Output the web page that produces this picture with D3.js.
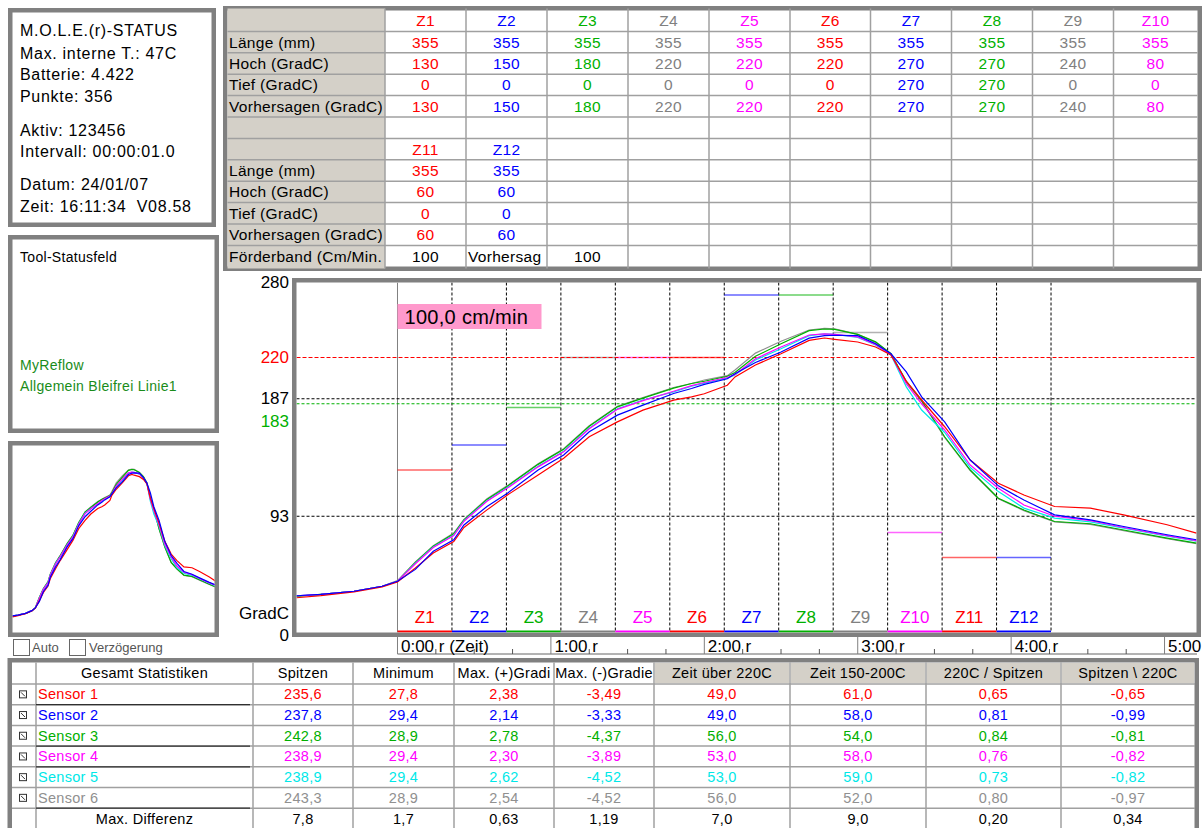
<!DOCTYPE html>
<html><head><meta charset="utf-8">
<script src="https://cdn.jsdelivr.net/npm/d3@7"></script>
<style>
body{margin:0;background:#fff}
svg{display:block}
text{font-family:"Liberation Sans",Arial,sans-serif;white-space:pre}
</style>
</head><body>
<svg id="c" width="1203" height="828"></svg>
<script>
// ---------------- DATA ----------------
const zones = ["Z1","Z2","Z3","Z4","Z5","Z6","Z7","Z8","Z9","Z10","Z11","Z12"];
const zoneColors = ["#ff0000","#0000ff","#00b000","#808080","#ff00ff","#ff0000","#0000ff","#00b000","#808080","#ff00ff","#ff0000","#0000ff"];
const zoneLength = [355,355,355,355,355,355,355,355,355,355,355,355];
const zoneHoch = [130,150,180,220,220,220,270,270,240,80,60,60];
const zoneTief = [0,0,0,0,0,0,270,270,0,0,0,0];
const zoneVorhersagen = [130,150,180,220,220,220,270,270,240,80,60,60];
const conveyorSpeed = 100; // cm/min

const statusLines = ["M.O.L.E.(r)-STATUS","Max. interne T.: 47C","Batterie: 4.422","Punkte: 356","Aktiv: 123456","Intervall: 00:00:01.0","Datum: 24/01/07","Zeit: 16:11:34  V08.58"];
const toolLines = ["MyReflow","Allgemein Bleifrei Linie1"];

const topRowLabels = ["","Länge (mm)","Hoch (GradC)","Tief (GradC)","Vorhersagen (GradC)","","","Länge (mm)","Hoch (GradC)","Tief (GradC)","Vorhersagen (GradC)","Förderband (Cm/Min."];

const timeSec = [-39.5,-30,-17,-6,0,7,14,22,26,35,43,55,65,75,86,96,108,115,120,129,132,140,150,161,167,171,180,187,193,199,205,214,224,235,245,257,271,284,301,312.5];
const sensor1 = [27.8,29.5,32.5,36.5,40.5,51.6,63.6,72.8,84,98.1,110,126,139.4,156.6,168.5,177.9,185.9,188.5,191,197.8,204.5,214,223,233.7,235.6,234.5,232.4,228.4,222,201,186,164.6,138,119.4,110,100.8,99.5,94.1,86.2,79.5];
const sensor2 = [29.4,30.5,33,37,41,50.5,65,74.2,86,100.8,111.4,130,142,160.6,173.9,181.9,191.2,195.2,198.5,203,207,216,224.4,235.5,237.5,237.8,237.5,231,223,208.5,188.5,168.5,138,117.3,106,94.1,90.1,84.8,78.2,74.2];
const sensor3 = [29,30.5,33,37,41,56,69,79,90,106.5,117,134.5,146.5,165,180.5,187.5,195.5,199.2,201,205,208,221,231,241.5,242.8,242.5,238.5,232.5,223,201,185.5,156.6,130,107.4,98,88.8,87,82,75.5,71.5];
const sensor4 = [29.4,30.5,33,37,41,55,68,77.5,89,105,115.5,132.5,144.5,163,178.5,185.5,193,197.5,200,204,206.5,219,228.4,238,238.9,238.5,236.5,230.5,222.5,199,183,162,134,115.4,102,93,89.5,84,77.5,73.5];
const sensor5 = [29.4,30.5,33,37,41,55.5,68.5,78,89.5,105.5,116,133,145,163.5,179,186,192.5,197,199.5,203.5,206,218,227,237.5,238.9,238.5,236,230,222,196.5,178,160,132,112.7,99.5,91.5,88.5,83.5,77,73];
const sensor6 = [28.9,30.5,33,37,41.5,56.5,69.5,79.5,90.5,107,117.5,135,147,165.5,181,188,196,199.2,202,205.5,210,223.5,233,242,243.3,243,238.5,232,223,200,185,156,129.5,107,97.5,88.5,86.5,81.5,75,71];
const sensorNames = ["Sensor 1","Sensor 2","Sensor 3","Sensor 4","Sensor 5","Sensor 6"];
const sensorColors = ["#ff0000","#0000ff","#00b000","#ff00ff","#00e8e8","#909090"];

const yTickValues = [280,220,187,183,93,0];
const yTickColors = ["#000","#ff0000","#000","#00b000","#000","#000"];
const refLines = [220,187,183,93];
const refColors = ["#ff0000","#000","#00b000","#000"];
const timeTickLabels = ["0:00 r (Zeit)","1:00 r","2:00 r","3:00 r","4:00 r","5:00"];
const speedLabel = "100,0 cm/min";

const statsHeaders = ["","Gesamt Statistiken","Spitzen","Minimum","Max. (+)Gradi","Max. (-)Gradie","Zeit über 220C","Zeit 150-200C","220C / Spitzen","Spitzen \\ 220C"];
const statSpitzen = ["235,6","237,8","242,8","238,9","238,9","243,3","7,8"];
const statMinimum = ["27,8","29,4","28,9","29,4","29,4","28,9","1,7"];
const statMaxPos = ["2,38","2,14","2,78","2,30","2,62","2,54","0,63"];
const statMaxNeg = ["-3,49","-3,33","-4,37","-3,89","-4,52","-4,52","1,19"];
const statZeit220 = ["49,0","49,0","56,0","53,0","53,0","56,0","7,0"];
const statZeit150 = ["61,0","58,0","54,0","58,0","59,0","52,0","9,0"];
const stat220Sp = ["0,65","0,81","0,84","0,76","0,73","0,80","0,20"];
const statSp220 = ["-0,65","-0,99","-0,81","-0,82","-0,82","-0,97","0,34"];

// ---------------- DRAWING ----------------
const svg = d3.select("#c");
const FRAME = "#808080", GRID = "#a0a0a0", BTN = "#d4d0c8";

function frame(x0,y0,x1,y1,sw){
  svg.append("rect").attr("x",x0+sw/2).attr("y",y0+sw/2)
    .attr("width",x1-x0-sw).attr("height",y1-y0-sw)
    .attr("fill","#fff").attr("stroke",FRAME).attr("stroke-width",sw);
}
function txt(x,y,s,opt={}){
  return svg.append("text").attr("x",x).attr("y",y).text(s)
    .attr("dominant-baseline","central")
    .attr("font-size",opt.size||15)
    .attr("letter-spacing",opt.ls||0)
    .attr("fill",opt.color||"#000")
    .attr("text-anchor",opt.anchor||"start");
}

// Left panels
frame(8,8,216,227,4.5);
const statusY = [30,53,74,96,130,151,184,206];
statusLines.forEach((s,i)=>txt(20,statusY[i],s,{size:16,ls:0.7}));

frame(8,235,219,433,4.5);
txt(20,257,"Tool-Statusfeld",{size:14,ls:0.3});
toolLines.forEach((s,i)=>txt(20,365+i*21,s,{size:14,ls:0.3,color:"#1a8c1a"}));

frame(8,441,219,637,4.5);
[[13,"Auto",32],[69,"Verzögerung",89]].forEach(([bx,l,tx])=>{
  svg.append("rect").attr("x",bx+0.5).attr("y",639.5).attr("width",16).attr("height",16)
    .attr("fill","#fff").attr("stroke","#666");
  txt(tx,647,l,{size:13,color:"#555"});
});

// Top table
frame(223,6,1202,271,4.5);
const tTop = 10, rowH = 21.4, tLeft = 227.5, tRight = 1197.5;
const colEdges = [385,466,547,628,709,790,870.5,951.5,1032.5,1113.5,1197.5];
svg.append("rect").attr("x",tLeft).attr("y",8.5).attr("width",385-tLeft).attr("height",260)
  .attr("fill",BTN);
for(let r=1;r<12;r++){
  svg.append("line").attr("x1",tLeft).attr("x2",tRight).attr("y1",tTop+r*rowH).attr("y2",tTop+r*rowH)
    .attr("stroke",GRID).attr("stroke-width",1.5);
}
colEdges.slice(0,-1).forEach(cx=>{
  svg.append("line").attr("x1",cx).attr("x2",cx).attr("y1",8.5).attr("y2",268.5)
    .attr("stroke",GRID).attr("stroke-width",1.5);
});
const rowC = r => tTop + r*rowH + rowH/2;
const TS = {size:15.5,ls:0.3};
topRowLabels.forEach((s,r)=>{ if(s) txt(229,rowC(r),s,TS); });
const colC = c => (colEdges[c]+colEdges[c+1])/2;
const zoneRows = [zones, zoneLength, zoneHoch, zoneTief, zoneVorhersagen];
for(let z=0; z<12; z++){
  const block = z<10 ? 0 : 6, c = z<10 ? z : z-10;
  zoneRows.forEach((arr,k)=>txt(colC(c),rowC(block+k),String(arr[z]),{...TS,color:zoneColors[z],anchor:"middle"}));
}
txt(colC(0),rowC(11),String(conveyorSpeed),{...TS,anchor:"middle"});
txt(468,rowC(11),"Vorhersag",TS);
txt(colC(2),rowC(11),String(conveyorSpeed),{...TS,anchor:"middle"});

// Main chart
const x = d3.scaleLinear().domain([-39.5,312.5]).range([296.5,1196.5]);
const y = d3.scaleLinear().domain([0,280]).range([632.5,282.5]);
const zoneSec = zoneLength.map(l => l/(conveyorSpeed*10)*60);
const zoneStart = zoneSec.map((d,i)=>d3.sum(zoneSec.slice(0,i)));
const zoneEnd = zoneStart.map((s,i)=>s+zoneSec[i]);

frame(292,278,1201,637,4.5);
const g = svg.append("g");
svg.append("clipPath").attr("id","pc").append("rect")
  .attr("x",296.5).attr("y",282.5).attr("width",900).attr("height",350);
const gc = g.append("g").attr("clip-path","url(#pc)");

gc.append("line").attr("x1",x(0)).attr("x2",x(0)).attr("y1",282.5).attr("y2",632.5)
  .attr("stroke","#808080").attr("stroke-width",1);
zoneEnd.forEach(t=>gc.append("line").attr("x1",x(t)).attr("x2",x(t)).attr("y1",282.5).attr("y2",632.5)
  .attr("stroke","#000").attr("stroke-width",1).attr("stroke-dasharray","3,2"));
zoneHoch.forEach((v,i)=>gc.append("line").attr("x1",x(zoneStart[i])).attr("x2",x(zoneEnd[i]))
  .attr("y1",y(v)).attr("y2",y(v)).attr("stroke",zoneColors[i]).attr("stroke-width",1.5).attr("opacity",0.6));
refLines.forEach((v,i)=>gc.append("line").attr("x1",296.5).attr("x2",1196.5).attr("y1",y(v)).attr("y2",y(v))
  .attr("stroke",refColors[i]).attr("stroke-width",1).attr("stroke-dasharray",i===0?"4,2":"3,2"));
zoneColors.forEach((c,i)=>gc.append("line").attr("x1",x(zoneStart[i])).attr("x2",x(zoneEnd[i]))
  .attr("y1",631.5).attr("y2",631.5).attr("stroke",c).attr("stroke-width",2));
zones.forEach((z,i)=>txt((x(zoneStart[i])+x(zoneEnd[i]))/2,617,z,{size:17,color:zoneColors[i],anchor:"middle"}));
svg.append("rect").attr("x",x(0)).attr("y",304).attr("width",144).attr("height",25).attr("fill","#ff99cc");
txt(x(0)+7,317,speedLabel,{size:20,ls:0.3});

const series = [sensor1,sensor2,sensor3,sensor4,sensor5,sensor6];
const order = [5,2,4,3,0,1];
const line = d3.line().x((d,i)=>x(timeSec[i])).y(d=>y(d));
order.forEach(k=>gc.append("path").attr("d",line(series[k])).attr("fill","none")
  .attr("stroke",sensorColors[k]).attr("stroke-width",1.2));

yTickValues.forEach((v,i)=>{
  const dy = v===183 ? 18 : (v===0 ? 2.5 : 0);
  txt(289,y(v)+dy,String(v),{size:17,color:yTickColors[i],anchor:"end"});
});
txt(289,613,"GradC",{size:17,anchor:"end"});

// time axis
const axB = 654;
svg.append("line").attr("x1",x(0)).attr("x2",1197).attr("y1",axB).attr("y2",axB).attr("stroke","#666");
d3.range(0,315,15).forEach(t=>{
  const major = t%60===0;
  svg.append("line").attr("x1",x(t)).attr("x2",x(t)).attr("y1",major?637:649).attr("y2",axB)
    .attr("stroke",major?"#808080":"#555").attr("stroke-width",1);
});
timeTickLabels.forEach((s,i)=>txt(x(i*60)+3.5,646,s,{size:17}));

// mini chart
const xm = d3.scaleLinear().domain([-39.5,312.5]).range([12.5,216]);
const ym = d3.scaleLinear().domain([0,280]).range([636,444]);
svg.append("clipPath").attr("id","mc").append("rect").attr("x",12.5).attr("y",445.5).attr("width",202).attr("height",187);
const lineM = d3.line().x((d,i)=>xm(timeSec[i])).y(d=>ym(d));
const gm = svg.append("g").attr("clip-path","url(#mc)");
order.forEach(k=>gm.append("path").attr("d",lineM(series[k])).attr("fill","none")
  .attr("stroke",sensorColors[k]).attr("stroke-width",1.2));

// Bottom statistics table
frame(7.5,658,1199,834,4.5);
const bCols = [12,36,253,353,454,554,654,790,926,1061,1195];
const bTop = 662.5, bHeadH = 21.5, bRowH = 20.7;
const bRowTop = r => bTop + bHeadH + r*bRowH;
[6,7,8,9].forEach(c=>svg.append("rect").attr("x",bCols[c]+1).attr("y",bTop+0.5)
  .attr("width",bCols[c+1]-bCols[c]-2).attr("height",bHeadH-1.5).attr("fill",BTN));
for(let r=0;r<7;r++){
  svg.append("line").attr("x1",bCols[0]).attr("x2",1195).attr("y1",bRowTop(r)).attr("y2",bRowTop(r))
    .attr("stroke",GRID).attr("stroke-width",1.5);
}
bCols.slice(1,-1).forEach(cx=>svg.append("line").attr("x1",cx).attr("x2",cx).attr("y1",bTop).attr("y2",828)
  .attr("stroke",GRID).attr("stroke-width",1.5));
[0,2,3,5].forEach(r=>svg.append("line").attr("x1",bCols[1]).attr("x2",bCols[2]-3).attr("y1",bRowTop(r+1)).attr("y2",bRowTop(r+1))
  .attr("stroke","#303030").attr("stroke-width",1.2));
const BS = {size:14.5,ls:0.3};
statsHeaders.forEach((h,c)=>{ if(h) txt((bCols[c]+bCols[c+1])/2,bTop+bHeadH/2,h,{...BS,anchor:"middle"}); });
const statCols = [statSpitzen,statMinimum,statMaxPos,statMaxNeg,statZeit220,statZeit150,stat220Sp,statSp220];
for(let r=0;r<7;r++){
  const cy = bRowTop(r)+bRowH/2;
  const col = r<6 ? sensorColors[r] : "#000";
  if(r<6){
    txt(38,cy,sensorNames[r],{...BS,color:col});
    svg.append("rect").attr("x",19.5).attr("y",cy-3.5).attr("width",7).attr("height",7)
      .attr("fill","#fff").attr("stroke","#333").attr("stroke-width",1);
    svg.append("line").attr("x1",21).attr("y1",cy-2).attr("x2",25).attr("y2",cy+2).attr("stroke","#333");
  } else {
    txt((bCols[1]+bCols[2])/2,cy,"Max. Differenz",{...BS,anchor:"middle"});
  }
  statCols.forEach((arr,k)=>txt((bCols[k+2]+bCols[k+3])/2,cy,arr[r],{...BS,color:col,anchor:"middle"}));
}
</script>
</body></html>
